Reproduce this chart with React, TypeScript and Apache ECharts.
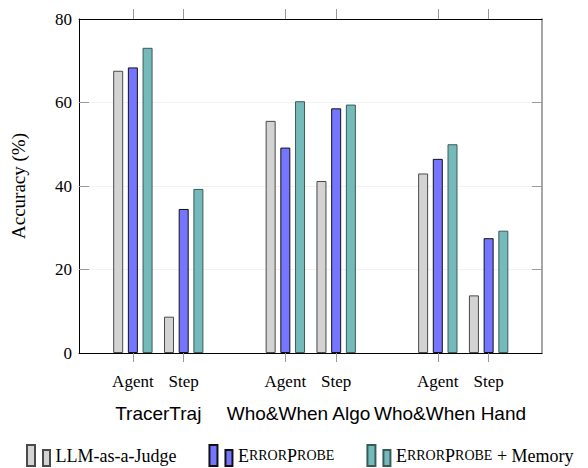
import React, { useEffect, useRef } from "react";
import * as echarts from "echarts";

const positions = [0, 1, 3, 4, 6, 7];
const tickLabels = ["Agent", "Step", "Agent", "Step", "Agent", "Step"];
const groupPositions = [0.5, 3.26, 6.24];
const groupLabels = ["TracerTraj", "Who&When Algo", "Who&When Hand"];
const seriesNames = ["LLM-as-a-Judge", "ErrorProbe", "ErrorProbe + Memory"];
const judgeValues = [67.6, 8.7, 55.6, 41.2, 43.0, 13.8];
const probeValues = [68.4, 34.5, 49.2, 58.6, 46.5, 27.5];
const memoryValues = [73.1, 39.3, 60.3, 59.5, 50.0, 29.3];
const yTicks = [20, 40, 60];

const SERIF = "'Liberation Serif', 'DejaVu Serif', serif";
const SANS = "'Liberation Sans', Arial, sans-serif";

export default function App() {
  const ref = useRef<HTMLDivElement>(null);
  useEffect(() => {
    if (!ref.current) return;
    const chart = echarts.init(ref.current, undefined, { renderer: "svg" });
    const xMin = -1.06;
    const xMax = 8.05;
    const fills = ["#d3d3d3", "#7575ff", "#75baba"];
    const borders = ["#4a4a4a", "#111111", "#3a5a5a"];
    const values = [judgeValues, probeValues, memoryValues];
    const labelFor = (v: number, list: number[], labels: string[]) => {
      const i = list.findIndex((p) => Math.abs(p - v) < 1e-6);
      return i >= 0 ? labels[i] : "";
    };
    const option: any = {
      animation: false,
      backgroundColor: "#ffffff",
      grid: { left: 79, top: 19, right: 46, bottom: 115, containLabel: false },
      xAxis: [
        {
          type: "value",
          min: xMin,
          max: xMax,
          position: "bottom",
          axisLine: { show: true, onZero: false, lineStyle: { color: "#000", width: 1 } },
          axisTick: {
            show: true,
            customValues: positions,
            length: 9,
            inside: false,
            lineStyle: { color: "#999", width: 1 },
          },
          axisLabel: {
            show: true,
            customValues: positions,
            formatter: (v: number) => labelFor(v, positions, tickLabels),
            fontFamily: SERIF,
            fontSize: 17,
            color: "#000",
            margin: 20,
          },
          splitLine: { show: false },
        },
        {
          type: "value",
          min: xMin,
          max: xMax,
          position: "top",
          axisLine: { show: true, onZero: false, lineStyle: { color: "#000", width: 1 } },
          axisTick: {
            show: true,
            customValues: positions,
            length: 10,
            inside: false,
            lineStyle: { color: "#999", width: 1 },
          },
          axisLabel: { show: false },
          splitLine: { show: false },
        },
        {
          type: "value",
          min: xMin,
          max: xMax,
          position: "bottom",
          offset: 0,
          axisLine: { show: false, onZero: false },
          axisTick: { show: false },
          axisLabel: {
            show: true,
            customValues: groupPositions,
            formatter: (v: number) => labelFor(v, groupPositions, groupLabels),
            fontFamily: SANS,
            fontSize: 19,
            color: "#000",
            margin: 51,
          },
          splitLine: { show: false },
        },
      ],
      yAxis: [
        {
          type: "value",
          min: 0,
          max: 80,
          interval: 20,
          position: "left",
          name: "Accuracy (%)",
          nameLocation: "middle",
          nameGap: 51,
          nameRotate: 90,
          nameTextStyle: { fontFamily: SERIF, fontSize: 19, color: "#000" },
          axisLine: { show: true, onZero: false, lineStyle: { color: "#000", width: 1 } },
          axisTick: {
            show: true,
            customValues: yTicks,
            inside: true,
            length: 10,
            lineStyle: { color: "#999", width: 1 },
          },
          axisLabel: { fontFamily: SERIF, fontSize: 17, color: "#000", margin: 7 },
          splitLine: { show: true, lineStyle: { color: "#f2f2f2", width: 1 } },
        },
        {
          type: "value",
          min: 0,
          max: 80,
          interval: 20,
          position: "right",
          axisLine: { show: true, onZero: false, lineStyle: { color: "#888", width: 1.5 } },
          axisTick: {
            show: true,
            customValues: yTicks,
            inside: true,
            length: 10,
            lineStyle: { color: "#999", width: 1 },
          },
          axisLabel: { show: false },
          splitLine: { show: false },
        },
      ],
      legend: {
        show: true,
        left: 21,
        top: 439,
        itemWidth: 24,
        itemHeight: 21,
        itemGap: 32,
        icon: "path://M0,0h8v21h-8z M16,5h7v16h-7z",
        data: seriesNames,
        formatter: (name: string) => {
          if (name === "ErrorProbe") return "{b|E}{s|RROR}{b|P}{s|ROBE}";
          if (name === "ErrorProbe + Memory") return "{b|E}{s|RROR}{b|P}{s|ROBE}{b| + Memory}";
          return "{b|" + name + "}";
        },
        textStyle: {
          fontFamily: SERIF,
          fontSize: 18,
          color: "#000",
          rich: {
            b: { fontFamily: SERIF, fontSize: 18, color: "#000" },
            s: { fontFamily: SERIF, fontSize: 14, color: "#000" },
          },
        },
      },
      series: seriesNames.map((name, si) => ({
        name,
        type: "bar",
        xAxisIndex: 0,
        yAxisIndex: 0,
        barWidth: 10,
        barGap: "47%",
        data: positions.map((p, i) => [p, values[si][i]]),
        itemStyle: { color: fills[si], borderColor: borders[si], borderWidth: 1 },
      })),
    };
    chart.setOption(option);
    return () => chart.dispose();
  }, []);
  return <div ref={ref} style={{ width: 588, height: 468, position: "absolute", left: 0, top: 0 }} />;
}
